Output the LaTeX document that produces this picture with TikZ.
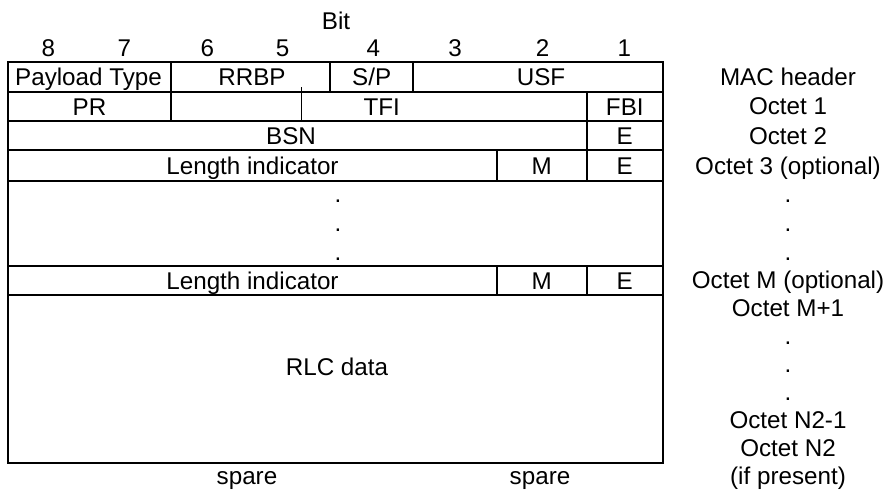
\documentclass[tikz,border=0pt]{standalone}
\usepackage{fontspec}
\setmainfont{Liberation Sans}
\begin{document}
\begin{tikzpicture}[x=0.5pt,y=-0.5pt,
  grid/.style={line width=1pt, line cap=rect},
  tick/.style={line width=0.6pt},
  lbl/.style={anchor=base, yshift=-4.35pt, inner sep=0pt, font=\fontsize{12.1}{14}\selectfont},
  bl/.style={anchor=base, inner sep=0pt, font=\fontsize{12.1}{14}\selectfont}]
\useasboundingbox (0,0) rectangle (893,491);
% table frame and rules
\draw[grid] (8.3,62) rectangle (662.5,462.5);
\foreach \yy in {92,121,150.5,181,266,295}
  \draw[grid] (8.3,\yy) -- (662.5,\yy);
\draw[grid] (170.7,62) -- (170.7,121);
\draw[grid] (330,62) -- (330,92);
\draw[grid] (413,62) -- (413,92);
\draw[grid] (587,92) -- (587,181);
\draw[grid] (497,150.5) -- (497,181);
\draw[grid] (497,266) -- (497,295);
\draw[grid] (587,266) -- (587,295);
\draw[tick] (301.7,87.3) -- (301.7,121);
% bit header
\node[lbl] (bit) at (336,21) {Bit};
\node[lbl] (b8) at (48.3,47.5) {8};
\node[lbl] (b7) at (124.3,47.5) {7};
\node[lbl] (b6) at (207.3,47.5) {6};
\node[lbl] (b5) at (282.7,47.5) {5};
\node[lbl] (b4) at (373.3,47.5) {4};
\node[lbl] (b3) at (455,47.5) {3};
\node[lbl] (b2) at (542.7,47.5) {2};
\node[lbl] (b1) at (624.3,47.5) {1};
% row 1
\node[lbl] (pt) at (88.5,77) {Payload Type};
\node[lbl] (rrbp) at (252,77) {RRBP};
\node[lbl] (sp) at (371.7,77) {S/P};
\node[lbl] (usf) at (541,77) {USF};
% row 2
\node[lbl] (pr) at (89.5,106.5) {PR};
\node[lbl] (tfi) at (381.7,106.5) {TFI};
\node[lbl] (fbi) at (624.8,106.5) {FBI};
% row 3
\node[lbl] (bsn) at (291,136) {BSN};
\node[lbl] (e1) at (624.8,136) {E};
% row 4
\node[lbl] (li1) at (252.5,166) {Length indicator};
\node[lbl] (m1) at (541.7,166) {M};
\node[lbl] (e2) at (624.8,166) {E};
% dots
\node[bl] (d1) at (338,203) {.};
\node[bl] (d2) at (338,231.6) {.};
\node[bl] (d3) at (338,260.2) {.};
% row M
\node[lbl] (li2) at (252.5,280.5) {Length indicator};
\node[lbl] (m2) at (541.7,280.5) {M};
\node[lbl] (e3) at (624.8,280.5) {E};
% data
\node[lbl] (rlc) at (337,366.7) {RLC data};
\node[bl] (spare1) at (247,484) {spare};
\node[bl] (spare2) at (540,484) {spare};
% right column
\node[bl] (r1) at (788,85.6) {MAC header};
\node[bl] (r2) at (788,115) {Octet 1};
\node[bl] (r3) at (788,144.6) {Octet 2};
\node[bl] (r4) at (788,174.6) {Octet 3 (optional)};
\node[bl] (r5) at (788,203) {.};
\node[bl] (r6) at (788,231.6) {.};
\node[bl] (r7) at (788,260.2) {.};
\node[bl] (r8) at (788,289) {Octet M (optional)};
\node[bl] (r9) at (788,316.9) {Octet M+1};
\node[bl] (r10) at (788,344.7) {.};
\node[bl] (r11) at (788,372.6) {.};
\node[bl] (r12) at (788,400.4) {.};
\node[bl] (r13) at (788,428.3) {Octet N2-1};
\node[bl] (r14) at (788,456.1) {Octet N2};
\node[bl] (r15) at (788,484) {(if present)};
\end{tikzpicture}
\end{document}
